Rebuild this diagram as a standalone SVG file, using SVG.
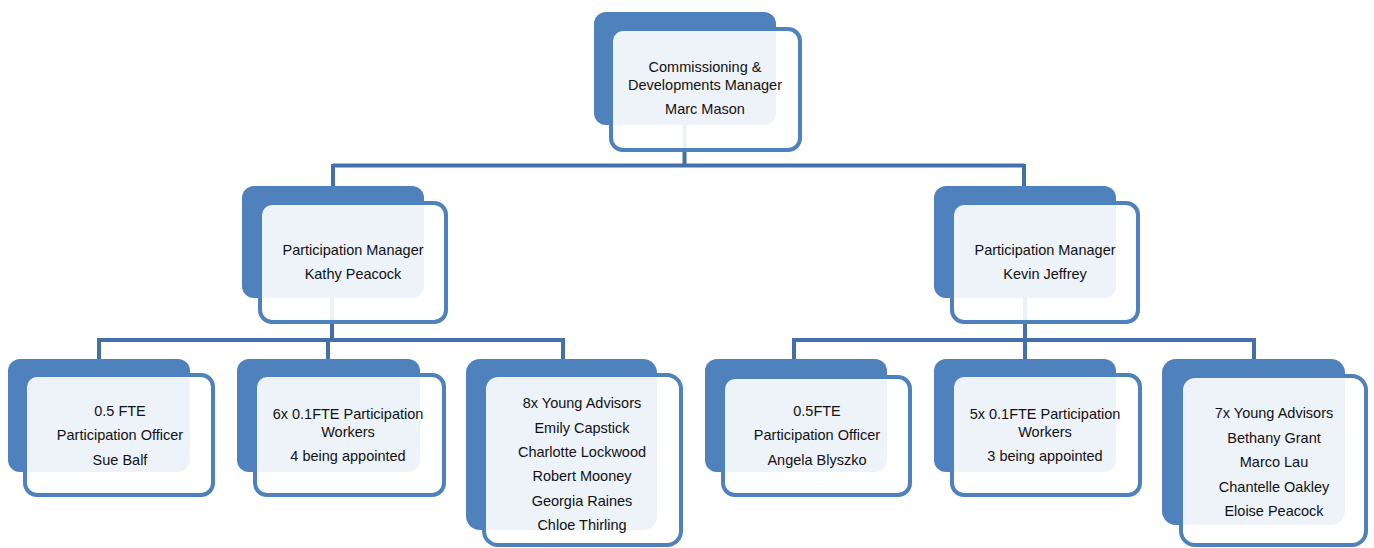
<svg xmlns="http://www.w3.org/2000/svg" width="1374" height="548" viewBox="0 0 1374 548">
<style>
.back{fill:#4F81BD}
.frame{fill:#FFFFFF;fill-opacity:0.9;stroke:#4F81BD;stroke-width:4}
.conn{fill:none;stroke:#4470A9;stroke-width:4}
text{font-family:"Liberation Sans",Arial,sans-serif;font-size:14.5px;fill:#111;text-anchor:middle}
</style>
<rect width="1374" height="548" fill="#FFFFFF"/>
<g id="connectors">
<path class="conn" d="M684.5,125 V165.5 M333,165.5 H1024 M333,164 V186 M1024,164 V186"/>
<path class="conn" d="M332,298 V340 M99,340 H563 M99,338 V359 M328,338 V359 M563,338 V359"/>
<path class="conn" d="M1025,298 V340 M794,340 H1254 M794,338 V359 M1025,338 V359 M1254,338 V359"/>
</g>
<g id="node-marc">
<rect class="back" x="594" y="12" width="182" height="113" rx="12"/>
<rect class="frame" x="611" y="29" width="189" height="121" rx="12"/>
<text x="705" y="72">Commissioning &amp;</text>
<text x="705" y="90">Developments Manager</text>
<text x="705" y="114">Marc Mason</text>
</g>
<g id="node-kathy">
<rect class="back" x="242" y="186" width="182" height="112" rx="12"/>
<rect class="frame" x="260" y="203" width="186" height="119" rx="12"/>
<text x="353" y="255">Participation Manager</text>
<text x="353" y="279">Kathy Peacock</text>
</g>
<g id="node-kevin">
<rect class="back" x="934" y="186" width="182" height="112" rx="12"/>
<rect class="frame" x="952" y="203" width="186" height="119" rx="12"/>
<text x="1045" y="255">Participation Manager</text>
<text x="1045" y="279">Kevin Jeffrey</text>
</g>
<g id="node-sue">
<rect class="back" x="8" y="359" width="182" height="113" rx="12"/>
<rect class="frame" x="25" y="375" width="188" height="120" rx="12"/>
<text x="120" y="416">0.5 FTE</text>
<text x="120" y="440">Participation Officer</text>
<text x="120" y="465">Sue Balf</text>
</g>
<g id="node-workers-left">
<rect class="back" x="237" y="359" width="183" height="113" rx="12"/>
<rect class="frame" x="255" y="375" width="189" height="120" rx="12"/>
<text x="348" y="419">6x 0.1FTE Participation</text>
<text x="348" y="437">Workers</text>
<text x="348" y="461">4 being appointed</text>
</g>
<g id="node-advisors-left">
<rect class="back" x="466" y="359" width="191" height="171" rx="14"/>
<rect class="frame" x="484" y="375" width="197" height="170" rx="14"/>
<text x="582" y="408">8x Young Advisors</text>
<text x="582" y="433">Emily Capstick</text>
<text x="582" y="457">Charlotte Lockwood</text>
<text x="582" y="481">Robert Mooney</text>
<text x="582" y="506">Georgia Raines</text>
<text x="582" y="530">Chloe Thirling</text>
</g>
<g id="node-angela">
<rect class="back" x="705" y="359" width="182" height="113" rx="12"/>
<rect class="frame" x="723" y="377" width="187" height="118" rx="12"/>
<text x="817" y="416">0.5FTE</text>
<text x="817" y="440">Participation Officer</text>
<text x="817" y="465">Angela Blyszko</text>
</g>
<g id="node-workers-right">
<rect class="back" x="934" y="359" width="182" height="113" rx="12"/>
<rect class="frame" x="952" y="375" width="188" height="120" rx="12"/>
<text x="1045" y="419">5x 0.1FTE Participation</text>
<text x="1045" y="437">Workers</text>
<text x="1045" y="461">3 being appointed</text>
</g>
<g id="node-advisors-right">
<rect class="back" x="1162" y="359" width="183" height="166" rx="14"/>
<rect class="frame" x="1181" y="376" width="185" height="169" rx="14"/>
<text x="1274" y="418">7x Young Advisors</text>
<text x="1274" y="443">Bethany Grant</text>
<text x="1274" y="467">Marco Lau</text>
<text x="1274" y="492">Chantelle Oakley</text>
<text x="1274" y="516">Eloise Peacock</text>
</g>
</svg>
